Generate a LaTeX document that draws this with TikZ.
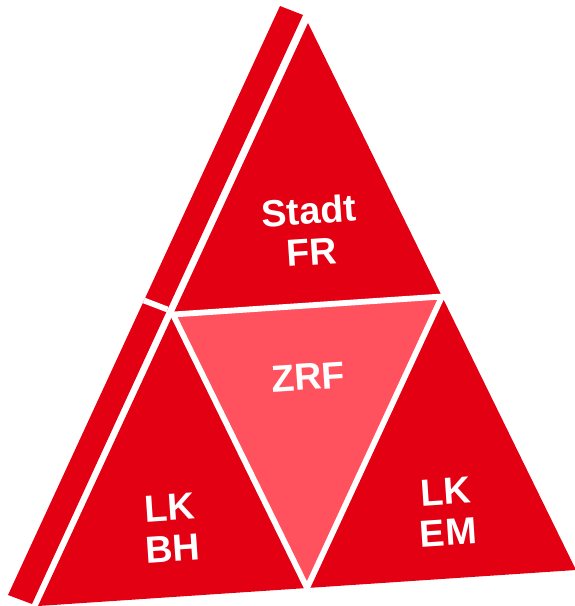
\documentclass[tikz,border=0pt]{standalone}
\usepackage{fontspec}
\setmainfont{Liberation Sans}
\usetikzlibrary{calc}
\definecolor{frred}{RGB}{226,0,18}
\definecolor{zrfred}{RGB}{255,82,94}
\begin{document}
\begin{tikzpicture}[x=0.02cm,y=-0.02cm,
	gap/.style={draw=white,line width=3.3pt,line join=miter},
	txt/.style={text=white,font=\bfseries\fontsize{21.5}{23.5}\selectfont,align=center,rotate=3.8}]
	\useasboundingbox (0,0) rectangle (575,606);
	% front face
	\coordinate (apex) at (308,23);
	\coordinate (bl) at (38,606);
	\coordinate (br) at (576,570);
	\coordinate (ml) at ($(apex)!.5!(bl)$);
	\coordinate (mr) at ($(apex)!.5!(br)$);
	\coordinate (mb) at ($(bl)!.5!(br)$);
	% side face
	\coordinate (sp) at (280,6);
	\coordinate (st) at (303,15);
	\coordinate (su) at (32,604);
	\coordinate (sq) at (8,595);
	\fill[frred](sp)--(st)--(su)--(sq)--cycle;
	\fill[frred](apex)--(bl)--(br)--cycle;
	\fill[zrfred](ml)--(mr)--(mb)--cycle;
	\draw[gap]($(sp)!.5!(sq)$)--($(st)!.5!(su)$);
	\draw[gap](ml)--(mr)--(mb)--cycle;
	\node[txt](stadt) at (310,231){Stadt\\FR};
	\node[txt](zrf) at (308,377){ZRF};
	\node[txt](bh) at (171,528){LK\\BH};
	\node[txt](em) at (447,512){LK\\EM};
\end{tikzpicture}
\end{document}
